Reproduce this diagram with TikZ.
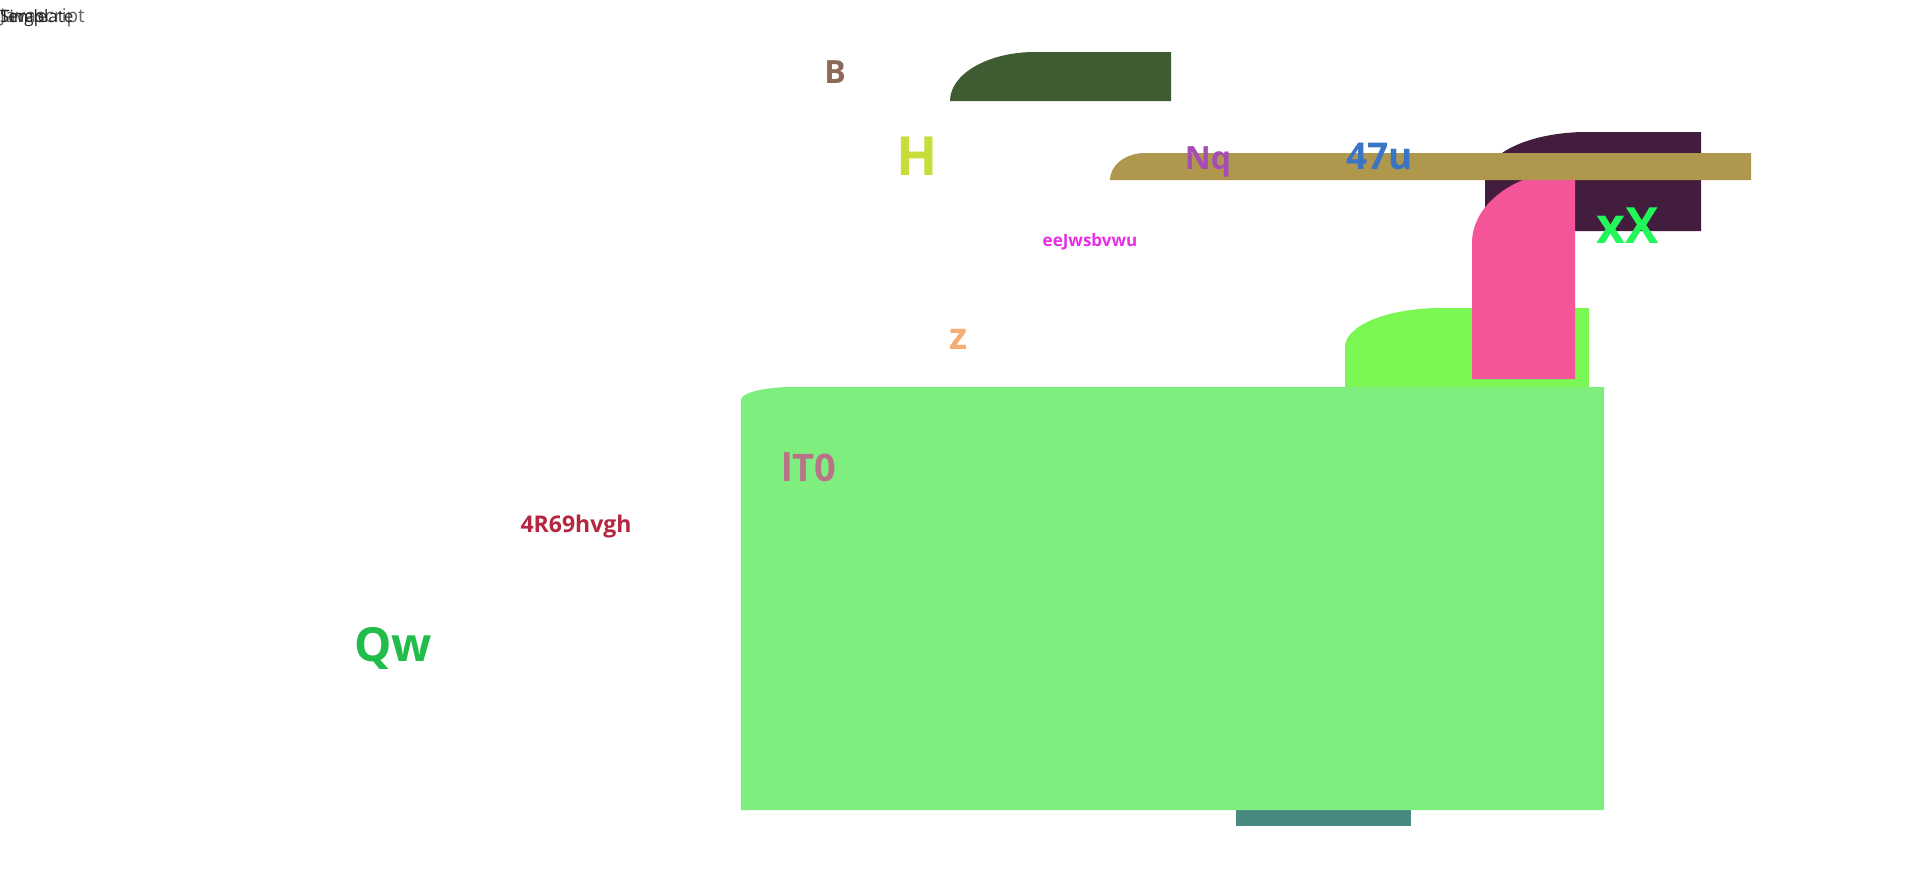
\documentclass[tikz,border=0pt]{standalone}
\usepackage{fontspec}
\setmainfont{Open Sans}
\definecolor{cB}{HTML}{8B6B57}
\definecolor{cDG}{HTML}{3E5B32}
\definecolor{cH}{HTML}{C8DD3A}
\definecolor{cTan}{HTML}{AF974E}
\definecolor{cNq}{HTML}{A64DB5}
\definecolor{c47}{HTML}{3A74C4}
\definecolor{cDP}{HTML}{431D3D}
\definecolor{cPink}{HTML}{F45599}
\definecolor{cxX}{HTML}{22F75A}
\definecolor{cee}{HTML}{E52FE5}
\definecolor{cz}{HTML}{F5AC73}
\definecolor{cLG}{HTML}{7BF753}
\definecolor{cBG}{HTML}{7EEF7E}
\definecolor{cTeal}{HTML}{488A82}
\definecolor{cIT}{HTML}{B87388}
\definecolor{cR}{HTML}{B5273F}
\definecolor{cQw}{HTML}{22BC4A}
\tikzset{
  lbl/.style={inner sep=0pt, anchor=center, font=\bfseries},
  tl/.style={inner sep=0pt, anchor=base west, font=\fontsize{17}{17}\selectfont},
}
% rounded top-left shape: x1,y1 (top-left), x2,y2 (bottom-right), rx, ry ; y given positive downward
\newcommand{\tlshape}[7]{%
  \fill[#1] (#2,-#5) -- (#2,-#3-#7) arc[start angle=180,end angle=90,x radius=#6,y radius=#7] -- (#4,-#3) -- (#4,-#5) -- cycle;}
\begin{document}
\begin{tikzpicture}[x=1pt,y=1pt]
\useasboundingbox (0,0) rectangle (1920,-870);
\fill[white] (0,0) rectangle (1920,-870);
% shapes
\tlshape{cDG}{950}{52}{1171}{101}{85}{49}
\tlshape{cLG}{1345}{308}{1589}{387}{96}{39}
\fill[cTeal] (1236,-805) rectangle (1411,-826);
\tlshape{cBG}{741}{387}{1604}{810}{52}{13}
\tlshape{cDP}{1485}{132}{1701}{231}{102}{47}
\tlshape{cPink}{1472}{170}{1575}{379}{103}{73}
\tlshape{cTan}{1110}{153}{1751}{180}{35}{27}
% top-left overlapping texts
\node[tl, text=black!60, font=\fontsize{19}{19}\selectfont] (t1) at (0,-22) {Javascript};
\node[tl, text=black!85] (t2) at (0,-22) {Template};
\node[tl, text=black!85] (t3) at (0,-22) {Single};
% labels
\node[lbl, text=cB, font=\bfseries\fontsize{32}{32}\selectfont] (nB) at (835,-72) {B};
\node[lbl, text=cH, font=\bfseries\fontsize{54}{54}\selectfont] (nH) at (917,-156) {H};
\node[lbl, text=cNq, font=\bfseries\fontsize{32}{32}\selectfont] (nNq) at (1208,-162) {Nq};
\node[lbl, text=c47, font=\bfseries\fontsize{37}{37}\selectfont] (n47) at (1380,-156) {47u};
\node[lbl, text=cxX, font=\bfseries\fontsize{50}{50}\selectfont] (nxX) at (1628,-226) {xX};
\node[lbl, text=cee, font=\bfseries\fontsize{17}{17}\selectfont] (nee) at (1090,-242) {eeJwsbvwu};
\node[lbl, text=cz, font=\bfseries\fontsize{37}{37}\selectfont] (nz) at (959,-339) {z};
\node[lbl, text=cIT, font=\bfseries\fontsize{38}{38}\selectfont] (nIT) at (809,-467) {lT0};
\node[lbl, text=cR, font=\bfseries\fontsize{23}{23}\selectfont] (nR) at (576,-527) {4R69hvgh};
\node[lbl, text=cQw, font=\bfseries\fontsize{47}{47}\selectfont] (nQw) at (393,-648) {Qw};
\end{tikzpicture}
\end{document}
